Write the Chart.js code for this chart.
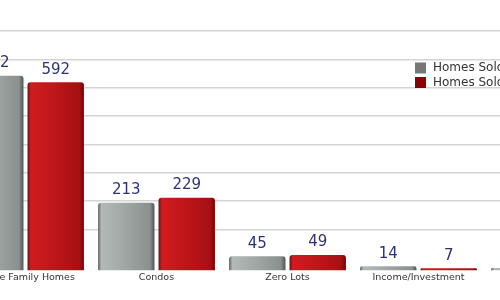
<!DOCTYPE html>
<html>
<head>
<meta charset="utf-8">
<script src="https://cdn.jsdelivr.net/npm/chart.js@4.4.1/dist/chart.umd.min.js"></script>
<style>
  html, body { margin: 0; padding: 0; background: #fff; overflow: hidden; width: 500px; height: 300px; }
  #wrap { position: absolute; left: -40px; top: 0; width: 655px; height: 300px; }
</style>
</head>
<body>
<div id="wrap"><canvas id="c" width="655" height="300"></canvas></div>
<script>
const categories = ['Single Family Homes', 'Condos', 'Zero Lots', 'Income/Investment', 'Other'];
const seriesNames = ['Homes Sold 2012', 'Homes Sold 2013'];
const soldA = [612, 213, 45, 14, 8];
const soldB = [592, 229, 49, 7, 3];
const gridValues = [129, 218, 307, 396, 485, 574, 663, 752];

const grayStops = ['#5f6563', '#b3b9b7', '#a2a8a6', '#8a908e', '#4f5452'];
const redStops = ['#7a0a0c', '#d01c1f', '#c0161a', '#a51013', '#680709'];

function barGradient(ctx, stops) {
  const chart = ctx.chart;
  const xs = chart.scales && chart.scales.x;
  if (!xs || ctx.dataIndex === undefined || !isFinite(xs.width) || xs.width <= 0) return stops[2];
  const center = xs.getPixelForValue(ctx.dataIndex);
  if (!isFinite(center)) return stops[2];
  const cw = xs.width / categories.length;
  const slot = cw * 0.923 / 2;
  const bw = slot * 0.933;
  const sc = ctx.datasetIndex === 0 ? center - slot / 2 : center + slot / 2;
  const g = chart.ctx.createLinearGradient(sc - bw / 2, 0, sc + bw / 2, 0);
  g.addColorStop(0, stops[0]);
  g.addColorStop(0.06, stops[1]);
  g.addColorStop(0.45, stops[2]);
  g.addColorStop(0.92, stops[3]);
  g.addColorStop(1, stops[4]);
  return g;
}

const valueLabels = {
  id: 'valueLabels',
  afterDatasetsDraw(chart) {
    const c = chart.ctx;
    c.save();
    c.font = '15px "DejaVu Sans"';
    c.fillStyle = '#2c3278';
    c.textAlign = 'center';
    c.textBaseline = 'bottom';
    chart.data.datasets.forEach((ds, di) => {
      chart.getDatasetMeta(di).data.forEach((el, i) => {
        c.fillText(String(ds.data[i]), el.x, el.y - 5);
      });
    });
    c.restore();
  }
};

const legendBoxes = ['#777777', '#8b0000'];
const sideLegend = {
  id: 'sideLegend',
  afterDraw(chart) {
    const c = chart.ctx;
    c.save();
    c.font = '12px "DejaVu Sans"';
    c.textBaseline = 'middle';
    c.textAlign = 'left';
    chart.data.datasets.forEach((ds, i) => {
      const y = 68 + i * 14.5;
      c.fillStyle = legendBoxes[i];
      c.fillRect(455, y - 5.5, 11, 11);
      c.fillStyle = '#333333';
      c.fillText(ds.label, 473, y);
    });
    c.restore();
  }
};

new Chart(document.getElementById('c'), {
  type: 'bar',
  data: {
    labels: categories,
    datasets: [
      { label: seriesNames[0], data: soldA, backgroundColor: (ctx) => barGradient(ctx, grayStops), borderRadius: { topLeft: 3, topRight: 3 }, borderSkipped: 'bottom' },
      { label: seriesNames[1], data: soldB, backgroundColor: (ctx) => barGradient(ctx, redStops), borderRadius: { topLeft: 3, topRight: 3 }, borderSkipped: 'bottom' }
    ]
  },
  options: {
    responsive: false,
    animation: false,
    devicePixelRatio: 1,
    layout: { padding: { left: 0, right: 0, top: 0, bottom: 16 } },
    datasets: { bar: { categoryPercentage: 0.923, barPercentage: 0.933 } },
    plugins: { legend: { display: false }, tooltip: { enabled: false } },
    scales: {
      x: {
        grid: { display: false, drawTicks: false },
        border: { display: false },
        ticks: { color: '#333333', font: { family: 'DejaVu Sans', size: 9.5 }, padding: 1, maxRotation: 0, autoSkip: false }
      },
      y: {
        min: 0, max: 850,
        border: { display: false },
        grid: { color: '#d4d4d4', lineWidth: 1.5, drawTicks: false },
        ticks: { display: false },
        afterBuildTicks: (scale) => { scale.ticks = gridValues.map(v => ({ value: v })); }
      }
    }
  },
  plugins: [valueLabels, sideLegend]
});
</script>
</body>
</html>
